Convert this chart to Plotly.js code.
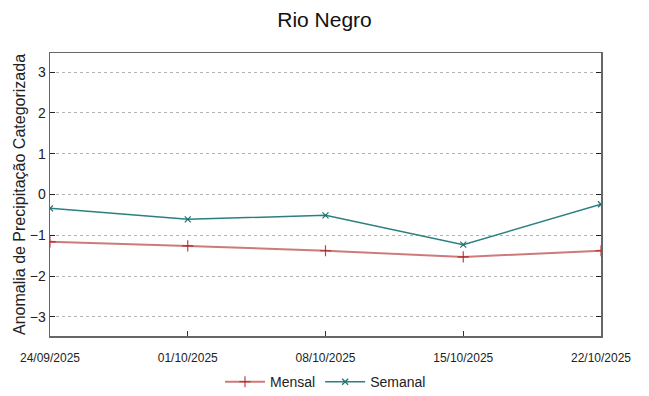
<!DOCTYPE html>
<html>
<head>
<meta charset="utf-8">
<script src="https://cdn.plot.ly/plotly-3.0.1.min.js"></script>
<style>html,body{margin:0;padding:0;background:#fff;}#chart{width:649px;height:396px;}</style>
</head>
<body>
<div id="chart"></div>
<script>
const dates = ['2025-09-24', '2025-10-01', '2025-10-08', '2025-10-15', '2025-10-22'];
const mensal = [-1.16, -1.26, -1.38, -1.53, -1.38];
const semanal = [-0.34, -0.61, -0.51, -1.23, -0.24];
const yTicks = [-3, -2, -1, 0, 1, 2, 3];

const traces = [
  {x: dates, y: mensal, name: 'Mensal', type: 'scatter', mode: 'lines+markers',
   line: {color: 'rgba(180,50,50,0.65)', width: 2},
   marker: {symbol: 'cross-thin', size: 8, line: {color: 'rgba(170,20,20,0.8)', width: 1.2}}},
  {x: dates, y: semanal, name: 'Semanal', type: 'scatter', mode: 'lines+markers',
   line: {color: '#2a8080', width: 1.5},
   marker: {symbol: 'x-thin', size: 6, line: {color: '#1f7070', width: 1.2}}}
];

const layout = {
  width: 649, height: 396,
  margin: {l: 50, r: 48, t: 53, b: 60, autoexpand: false},
  paper_bgcolor: '#fff', plot_bgcolor: '#fff',
  font: {family: 'Liberation Sans, Arial, sans-serif', color: '#222'},
  title: {text: 'Rio Negro', x: 0.5, xanchor: 'center', yref: 'container', y: 0.95, yanchor: 'middle',
          font: {size: 21, color: '#111'}},
  xaxis: {type: 'date', range: [dates[0], dates[dates.length - 1]],
          tickvals: dates, tickformat: '%d/%m/%Y',
          tickfont: {size: 12, color: '#222'},
          ticks: 'inside', ticklen: 5, tickcolor: '#333', ticklabelstandoff: 10,
          showline: true, linecolor: '#666', linewidth: 1.5, mirror: true,
          showgrid: false, zeroline: false, automargin: false},
  yaxis: {range: [-3.47, 3.47], tickvals: yTicks,
          tickfont: {size: 14, color: '#222'},
          ticks: 'inside', ticklen: 5, tickcolor: '#222',
          showline: true, linecolor: '#666', linewidth: 1.5, mirror: 'ticks',
          showgrid: true, gridcolor: '#b4b4b4', griddash: 'dot', gridwidth: 1,
          zeroline: false, automargin: true,
          title: {text: 'Anomalia de Precipitação Categorizada', font: {size: 16, color: '#222'}, standoff: 0}},
  legend: {orientation: 'h', x: 0.5, xanchor: 'center', yref: 'container', y: 0.035, yanchor: 'middle',
           font: {size: 14, color: '#222'}, itemwidth: 40, bgcolor: 'rgba(0,0,0,0)'},
  showlegend: true
};

Plotly.newPlot('chart', traces, layout, {displayModeBar: false, staticPlot: true});
</script>
</body>
</html>
